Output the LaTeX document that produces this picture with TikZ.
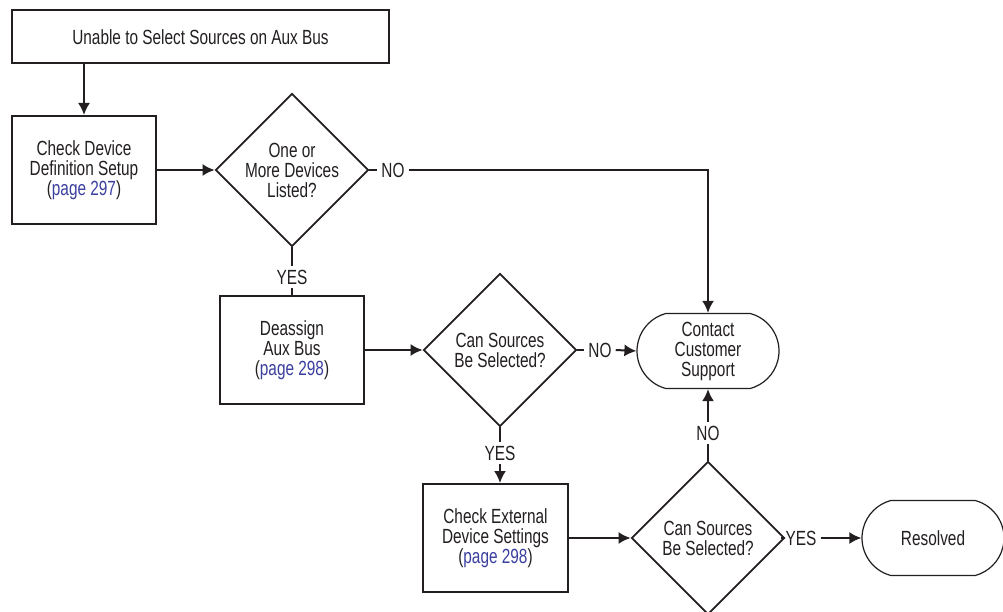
\documentclass[tikz,border=0pt]{standalone}
\usepackage{fontspec}
\setmainfont[FakeStretch=0.75]{Liberation Sans}
\usepackage{tikz}
\usepackage{xcolor}
\usetikzlibrary{arrows.meta,positioning,calc,shapes.geometric,shapes.misc}
\definecolor{ink}{HTML}{231F20}
\definecolor{link}{HTML}{3B3F9E}
\tikzset{
  block/.style={draw=ink, fill=white, line width=2pt, align=center,
                inner sep=2pt, text=ink},
  decision/.style={draw=ink, fill=white, diamond, aspect=1, line width=1.8pt,
                   minimum width=153pt, minimum height=153pt, inner sep=0pt,
                   align=center, text=ink},
  terminal/.style={draw=ink, fill=white, rounded rectangle,
                   rounded rectangle arc length=150, line width=1.2pt,
                   minimum width=146pt, minimum height=75pt, inner sep=2pt,
                   align=center, text=ink},
  tag/.style={inner sep=4pt, text=ink},
  arrow/.style={-{Latex[length=12pt,width=12pt]}, line width=2pt, draw=ink},
  wire/.style={line width=2pt, draw=ink}
}

\begin{document}
\begin{tikzpicture}[x=1pt,y=1pt,font=\fontsize{20.5}{20}\selectfont]
    \clip (0,0) rectangle (1003,611);
    \useasboundingbox (0,0) rectangle (1003,611);

    % boxes
    \node[block,minimum width=377pt,minimum height=53pt] (start) at (200.5,574) {Unable to Select Sources on Aux Bus};
    \node[block,minimum width=144pt,minimum height=108pt] (chkdev) at (84,441)
      {Check Device\\Definition Setup\\(\textcolor{link}{page 297})};
    \node[decision] (listed) at (292,441) {One or\\More Devices\\Listed?};
    \node[block,minimum width=144pt,minimum height=107pt] (deassign) at (292,261)
      {Deassign\\Aux Bus\\(\textcolor{link}{page 298})};
    \node[decision] (selA) at (500,261) {Can Sources\\Be Selected?};
    \node[terminal] (contact) at (708,260) {Contact\\Customer\\Support};
    \node[block,minimum width=145pt,minimum height=108pt] (extdev) at (495.5,73)
      {Check External\\Device Settings\\(\textcolor{link}{page 298})};
    \node[decision] (selB) at (708,73) {Can Sources\\Be Selected?};
    \node[terminal] (resolved) at (933,73) {Resolved};

    % yes / no tags
    \node[tag] (noA)  at (393,441) {NO};
    \node[tag] (yesA) at (292,334) {YES};
    \node[tag] (noB)  at (600,261) {NO};
    \node[tag] (yesB) at (500,158) {YES};
    \node[tag] (noC)  at (708,178) {NO};
    \node[tag] (yesC) at (801,73) {YES};

    % connectors
    \draw[arrow] (start.south -| chkdev.north) -- (chkdev.north);
    \draw[arrow] (chkdev.east) -- (listed.west);
    \draw[wire] (listed.east) -- (noA.west);
    \draw[arrow] (noA.east) -| (contact.north);
    \draw[wire] (listed.south) -- (yesA.north);
    \draw[wire] (yesA.south) -- (deassign.north);
    \draw[arrow] (deassign.east) -- (selA.west);
    \draw[wire] (selA.east) -- (noB.west);
    \draw[arrow] (noB.east) -- (contact.west);
    \draw[wire] (selA.south) -- (yesB.north);
    \draw[arrow] (yesB.south) -- (yesB.south |- extdev.north);
    \draw[arrow] (extdev.east) -- (selB.west);
    \draw[wire] (selB.north) -- (noC.south);
    \draw[arrow] (noC.north) -- (contact.south);
    \draw[wire] (selB.east) -- (yesC.west);
    \draw[arrow] (yesC.east) -- (resolved.west);
  \end{tikzpicture}
\end{document}
